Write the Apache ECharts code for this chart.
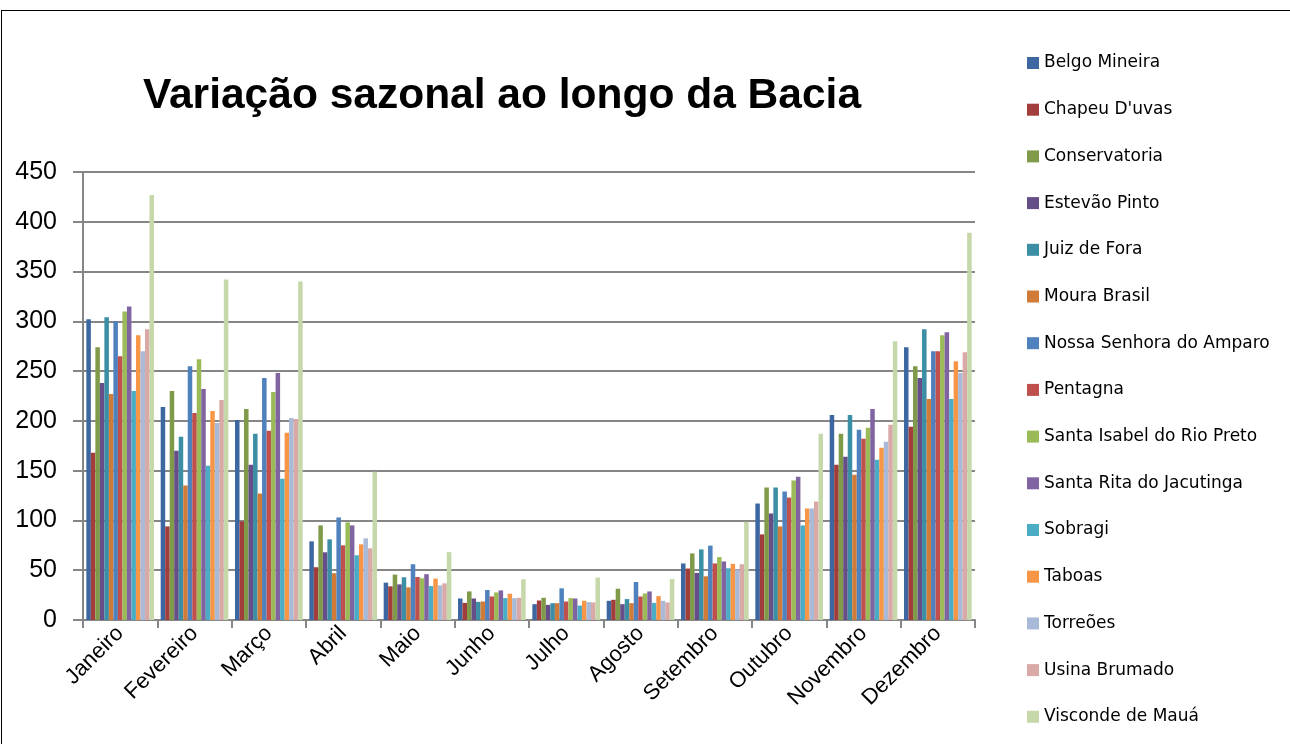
<!DOCTYPE html>
<html>
<head>
<meta charset="utf-8">
<script src="https://cdn.jsdelivr.net/npm/echarts@6/dist/echarts.min.js"></script>
<style>
    html, body { margin: 0; padding: 0; background: #fff; }
    #frame { position: absolute; left: 1px; top: 10px; width: 1300px; height: 760px; border: 1px solid #000; box-sizing: border-box; }
    #main { position: absolute; left: 0; top: 0; width: 1290px; height: 744px; }
</style>
</head>
<body>
<div id="frame"></div>
<div id="main"></div>
<script>
    // meses
    let meses = ['Janeiro', 'Fevereiro', 'Março', 'Abril', 'Maio', 'Junho', 'Julho', 'Agosto', 'Setembro', 'Outubro', 'Novembro', 'Dezembro'];

    // estações (ordem da legenda)
    let estacoes = ['Belgo Mineira', "Chapeu D'uvas", 'Conservatoria', 'Estevão Pinto', 'Juiz de Fora', 'Moura Brasil',
        'Nossa Senhora do Amparo', 'Pentagna', 'Santa Isabel do Rio Preto', 'Santa Rita do Jacutinga', 'Sobragi',
        'Taboas', 'Torreões', 'Usina Brumado', 'Visconde de Mauá'];

    let cores = ['#3D67A1', '#A13D3B', '#7F9A48', '#664E88', '#3B8EA4', '#D07B38',
        '#4F81BD', '#C0504D', '#9BBB59', '#8064A2', '#4BACC6', '#F79646',
        '#A9BAD8', '#D9A9A8', '#C6D8AA'];

    // valores de cada estação, jan..dez
    let belgoMineira   = [302, 214, 201, 79, 37.5, 21.6, 15.9, 19.3, 56.8, 117, 206, 274];
    let chapeuDuvas    = [168, 94, 99, 53, 33.8, 17.2, 19.6, 20.3, 51.7, 86, 156, 194];
    let conservatoria  = [274, 230, 212, 95, 45.6, 28.7, 22.3, 31.4, 66.9, 133, 187, 255];
    let estevaoPinto   = [238, 170, 156, 68, 35.8, 21.6, 15.2, 15.9, 47.3, 107, 164, 243];
    let juizDeFora     = [304, 184, 187, 81, 42.9, 18.2, 16.9, 21, 70.9, 133, 206, 292];
    let mouraBrasil    = [227, 135, 127, 47, 32.8, 18.6, 16.9, 16.9, 43.9, 94, 146, 222];
    let nossaSenhora   = [300, 255, 243, 103, 56, 30.1, 31.8, 38.2, 74.7, 129, 191, 270];
    let pentagna       = [265, 208, 190, 75, 43.2, 23.6, 18.6, 23.6, 56.8, 123, 182, 270];
    let santaIsabel    = [310, 262, 229, 98, 41.9, 27.7, 22, 26.7, 63.2, 140, 193, 286];
    let santaRita      = [315, 232, 248, 95, 46, 29.7, 21.6, 28.7, 58.8, 144, 212, 289];
    let sobragi        = [230, 155, 142, 65, 34.1, 22, 14.5, 17.2, 52, 95, 161, 222];
    let taboas         = [286, 210, 188, 76, 41.6, 26.4, 19.3, 24, 56.4, 112, 173, 260];
    let torreoes       = [270, 198, 203, 82, 34.8, 22, 17.9, 19.3, 50.7, 112, 179, 248];
    let usinaBrumado   = [292, 221, 202, 72, 36.8, 22.3, 17.6, 17.6, 56, 119, 196, 269];
    let viscondeMaua   = [427, 342, 340, 149, 68.2, 40.9, 42.6, 41.2, 98.6, 187, 280, 389];

    let valores = [belgoMineira, chapeuDuvas, conservatoria, estevaoPinto, juizDeFora, mouraBrasil,
        nossaSenhora, pentagna, santaIsabel, santaRita, sobragi, taboas, torreoes, usinaBrumado, viscondeMaua];

    let myChart = echarts.init(document.getElementById('main'));

    let series = estacoes.map((nome, i) => ({
        name: nome,
        type: 'bar',
        barGap: '0%',
        barCategoryGap: '9%',
        itemStyle: { color: cores[i] },
        data: valores[i]
    }));

    let option = {
        animation: false,
        title: {
            text: 'Variação sazonal ao longo da Bacia',
            left: 497,
            textAlign: 'center',
            top: 70,
            textStyle: {
                fontFamily: 'Liberation Sans',
                fontWeight: 'bold',
                fontSize: 42.5,
                color: '#000'
            }
        },
        legend: {
            orient: 'vertical',
            left: 1022,
            top: 48,
            itemWidth: 12,
            itemHeight: 12,
            itemGap: 26.7,
            icon: 'rect',
            data: estacoes,
            textStyle: {
                fontFamily: 'DejaVu Sans',
                fontSize: 17,
                lineHeight: 20,
                color: '#000'
            }
        },
        grid: {
            left: 83,
            right: 315,
            top: 172,
            bottom: 124
        },
        xAxis: {
            type: 'category',
            data: meses,
            axisLine: { lineStyle: { color: '#868686', width: 2 } },
            axisTick: { show: true, length: 8, lineStyle: { color: '#868686', width: 2 } },
            axisLabel: {
                rotate: 45,
                margin: 10,
                fontFamily: 'Liberation Sans',
                fontSize: 22,
                color: '#000'
            }
        },
        yAxis: {
            type: 'value',
            min: 0,
            max: 450,
            interval: 50,
            axisLine: { show: true, lineStyle: { color: '#868686', width: 2 } },
            axisTick: { show: true, length: 10, lineStyle: { color: '#868686', width: 2 } },
            splitLine: { lineStyle: { color: '#868686', width: 2 } },
            axisLabel: {
                margin: 26,
                fontFamily: 'Liberation Sans',
                fontSize: 25,
                color: '#000'
            }
        },
        series: series
    };

    myChart.setOption(option, true);
</script>
</body>
</html>
